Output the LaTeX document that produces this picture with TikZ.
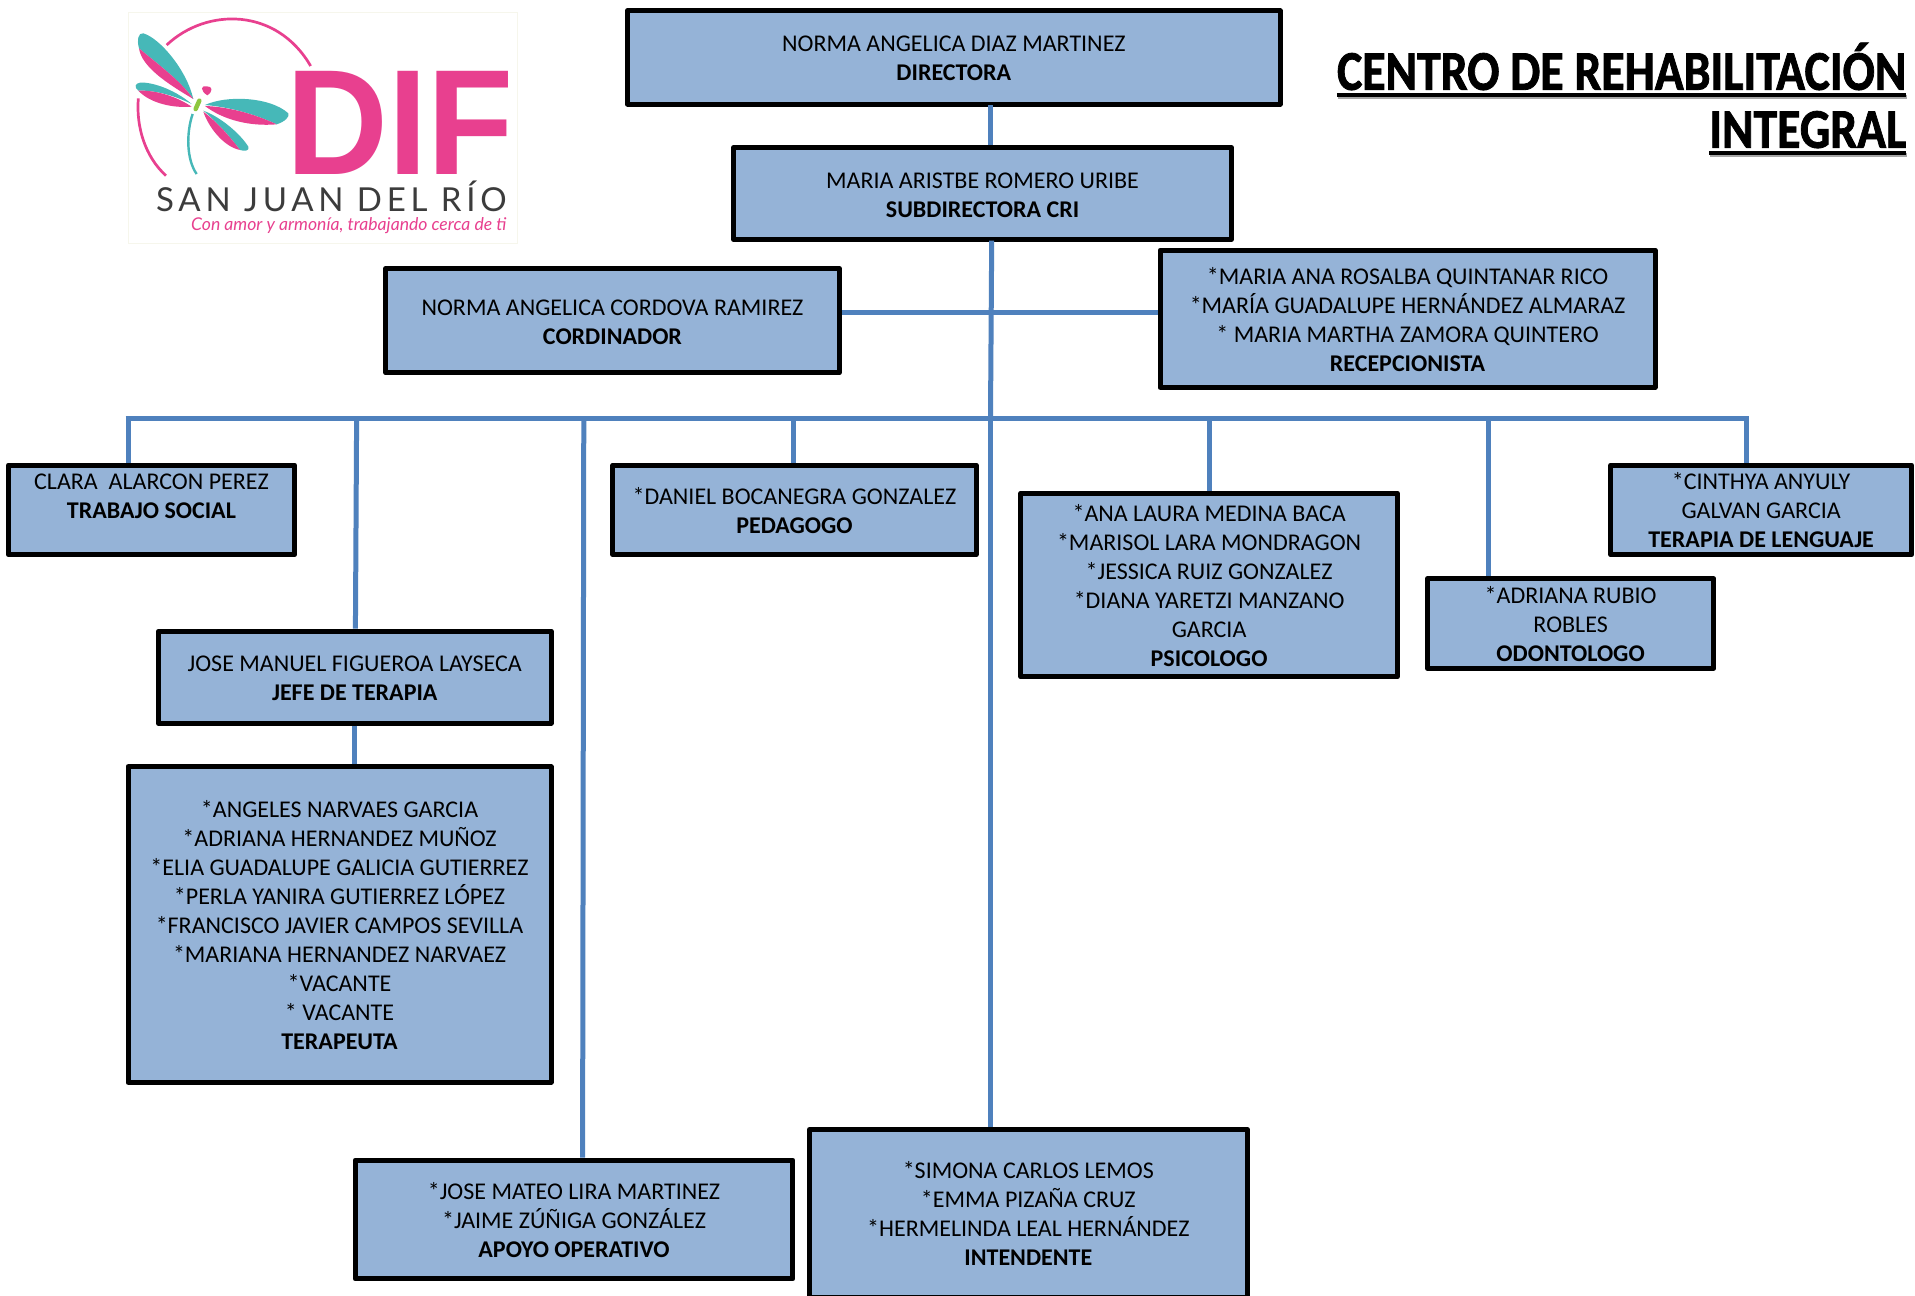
\documentclass[tikz,border=0pt]{standalone}
\usepackage{fontspec}
\usepackage{graphicx}
\setmainfont{Carlito}
\newfontfamily\titlefont[BoldFeatures={FakeBold=1.5}]{Carlito}
\newfontfamily\logofont[LetterSpace=14.5]{Lato}
\newfontfamily\tagfont{Lato}
\newfontfamily\diffont{Liberation Sans}
\definecolor{boxfill}{HTML}{95B3D7}
\definecolor{connblue}{HTML}{4F81BD}
\definecolor{logopink}{HTML}{E8408F}
\definecolor{logoteal}{HTML}{46B8B8}
\definecolor{logogreen}{HTML}{8DC63F}
\definecolor{logogrey}{HTML}{3C3C3C}
\definecolor{logoedge}{HTML}{F6F6EC}
\tikzset{
  orgbox/.style={draw=black,fill=boxfill,line width=5pt,line join=round,inner sep=0pt,
    font=\fontsize{24}{29}\selectfont},
  conn/.style={draw=connblue,line width=5pt},
  titletext/.style={anchor=base east,inner sep=0pt,font=\titlefont\fontsize{56}{60}\selectfont\bfseries},
  uline/.style={draw=black,line width=4.2pt},
  ushadow/.style={draw=black!35,line width=4.2pt},
  logotext/.style={anchor=base west,inner sep=0pt},
}
\newcommand{\orgnode}[6]{%
  \pgfmathsetmacro{\bw}{1.2213*(#4-#2)-2}\pgfmathsetmacro{\bh}{1.2213*(#5-#3)-2}%
  \pgfmathsetmacro{\cx}{(#2+#4)/2}\pgfmathsetmacro{\cy}{(#3+#5)/2}%
  \node[orgbox,minimum width=\bw pt,minimum height=\bh pt] (#1) at (\cx,\cy)
    {\raisebox{-3.2pt}[\height][\depth]{\begin{tabular}{@{}c@{}}#6\end{tabular}}};}
\begin{document}
\begin{tikzpicture}[x=1.2213pt,y=-1.2213pt]
\useasboundingbox (0,0) rectangle (1568,1061);
\clip (0,0) rectangle (1568,1061);
\fill[white] (0,0) rectangle (1568,1061);
% logo
\begin{scope}[shift={(90.07,0)},x=0.3333pt,y=-0.3333pt]
  \draw[draw=logoedge,fill=white,line width=1pt] (55,37) rectangle (1222,732);
  \draw[logopink,line width=2.7pt] (170,135) .. controls (290,22) and (500,22) .. (602,198);
  \draw[logopink,line width=2.7pt] (85,295) .. controls (78,380) and (105,470) .. (168,527);
  % wings
  \fill[logoteal] (250,297) .. controls (230,210) and (150,115) .. (100,100) .. controls (85,97) and (80,120) .. (87,145) .. controls (140,190) and (210,240) .. cycle;
  \fill[logopink] (87,145) .. controls (95,200) and (170,250) .. (250,297) .. controls (210,240) and (140,190) .. cycle;
  \fill[logoteal] (245,312) .. controls (190,265) and (120,245) .. (90,248) .. controls (75,250) and (72,262) .. (85,272) .. controls (140,270) and (200,290) .. cycle;
  \fill[logopink] (85,272) .. controls (120,310) and (190,325) .. (245,320) .. controls (200,290) and (140,270) .. cycle;
  \fill[logoteal] (285,315) .. controls (350,285) and (480,290) .. (535,340) .. controls (540,350) and (525,365) .. (500,373) .. controls (430,340) and (350,320) .. cycle;
  \fill[logopink] (285,318) .. controls (350,320) and (430,340) .. (500,373) .. controls (420,380) and (340,360) .. cycle;
  \fill[logoteal] (280,332) .. controls (330,350) and (390,400) .. (415,440) .. controls (420,452) and (405,455) .. (390,450) .. controls (360,410) and (320,365) .. cycle;
  \fill[logopink] (280,335) .. controls (320,365) and (360,410) .. (390,450) .. controls (340,440) and (295,380) .. cycle;
  \draw[logogreen,line width=4.5pt,line cap=round] (268,302) -- (257,327);
  \draw[logoteal,line width=2.4pt] (248,342) .. controls (228,400) and (230,480) .. (260,522);
  \fill[logopink] (292,286) .. controls (270,272) and (272,255) .. (290,259) .. controls (308,258) and (310,274) .. cycle;
  \node[logotext,text=logopink,font=\diffont\bfseries\fontsize{150}{150}\selectfont] (dif) at (530,523) {\scalebox{0.94}[1]{DIF}};
  \node[logotext,text=logogrey,font=\logofont\fontsize{33}{33}\selectfont] (sjr) at (138,634) {SAN JUAN DEL RÍO};
  \node[logotext,text=logopink,font=\tagfont\itshape\fontsize{17.6}{20}\selectfont] (lema) at (243,691) {Con amor y armonía, trabajando cerca de ti};
\end{scope}
% boxes
\orgnode{dir}{513}{8}{1049}{86}{NORMA ANGELICA DIAZ MARTINEZ\\\textbf{DIRECTORA}}
\orgnode{sub}{600}{120}{1009}{197}{MARIA ARISTBE ROMERO URIBE\\\textbf{SUBDIRECTORA CRI}}
\orgnode{cord}{315}{219}{688}{306}{NORMA ANGELICA CORDOVA RAMIREZ\\\textbf{CORDINADOR}}
\orgnode{recep}{949}{204}{1356}{318}{*MARIA ANA ROSALBA QUINTANAR RICO\\{*}MARÍA GUADALUPE HERNÁNDEZ ALMARAZ\\{*} MARIA MARTHA ZAMORA QUINTERO\\\textbf{RECEPCIONISTA}}
\orgnode{trab}{6}{380}{242}{455}{CLARA~ ALARCON PEREZ\\\textbf{TRABAJO SOCIAL}\\\strut}
\orgnode{ped}{501}{380}{800}{455}{*DANIEL BOCANEGRA GONZALEZ\\\textbf{PEDAGOGO}}
\orgnode{psi}{835}{403}{1145}{555}{*ANA LAURA MEDINA BACA\\{*}MARISOL LARA MONDRAGON\\{*}JESSICA RUIZ GONZALEZ\\{*}DIANA YARETZI MANZANO\\GARCIA\\\textbf{PSICOLOGO}}
\orgnode{odo}{1168}{473}{1404}{548}{*ADRIANA RUBIO\\ROBLES\\\textbf{ODONTOLOGO}}
\orgnode{leng}{1318}{380}{1566}{455}{*CINTHYA ANYULY\\GALVAN GARCIA\\\textbf{TERAPIA DE LENGUAJE}}
\orgnode{jefe}{129}{516}{452}{593}{JOSE MANUEL FIGUEROA LAYSECA\\\textbf{JEFE DE TERAPIA}}
\orgnode{ter}{104}{627}{452}{887}{*ANGELES NARVAES GARCIA\\{*}ADRIANA HERNANDEZ MUÑOZ\\{*}ELIA GUADALUPE GALICIA GUTIERREZ\\{*}PERLA YANIRA GUTIERREZ LÓPEZ\\{*}FRANCISCO JAVIER CAMPOS SEVILLA\\{*}MARIANA HERNANDEZ NARVAEZ\\{*}VACANTE\\{*} VACANTE\\\textbf{TERAPEUTA}}
\orgnode{apoyo}{290}{949}{650}{1048}{*JOSE MATEO LIRA MARTINEZ\\{*}JAIME ZÚÑIGA GONZÁLEZ\\\textbf{APOYO OPERATIVO}}
\orgnode{int}{662}{924}{1022}{1063}{*SIMONA CARLOS LEMOS\\{*}EMMA PIZAÑA CRUZ\\{*}HERMELINDA LEAL HERNÁNDEZ\\\textbf{INTENDENTE}}
% bus junctions
\coordinate (jdir) at (811,86);
\coordinate (jsub) at (812,197);
\coordinate (jmid) at (811.5,256);
\coordinate (jtop) at (811,343);
\coordinate (busl) at (105,343);
\coordinate (busr) at (1430,343);
\coordinate (jjefe) at (292,343);
\coordinate (japoyo) at (478,343);
\coordinate (jped) at (650,343);
\coordinate (jpsi) at (990,343);
\coordinate (jodo) at (1219,343);
% connectors
\draw[conn] (jdir) -- (jdir |- sub.north);
\draw[conn] (jsub) -- (jtop);
\draw[conn] (cord.east |- jmid) -- (recep.west |- jmid);
\draw[conn] ([xshift=-2.5pt]busl) -- ([xshift=2.5pt]busr);
\draw[conn] (busl) -- (busl |- trab.north);
\draw[conn] (jjefe) -- ([xshift=-1.2pt]jjefe |- jefe.north);
\draw[conn] (japoyo) -- ([xshift=-1.2pt]japoyo |- apoyo.north);
\draw[conn] (jped) -- (jped |- ped.north);
\draw[conn] (jtop) -- (jtop |- int.north);
\draw[conn] (jpsi) -- (jpsi |- psi.north);
\draw[conn] (jodo) -- (jodo |- odo.north);
\draw[conn] (busr) -- (busr |- leng.north);
\draw[conn] (jefe.south) -- (jefe.south |- ter.north);
% title
\node[titletext] (t1) at (1561,73.5) {\scalebox{0.853}[1]{CENTRO DE REHABILITACIÓN}};
\node[titletext] (t2) at (1561,121) {\scalebox{0.853}[1]{INTEGRAL}};
\draw[ushadow] ([xshift=1pt,yshift=-7pt]t1.base west) -- ([xshift=1pt,yshift=-7pt]t1.base east);
\draw[uline] ([yshift=-5.5pt]t1.base west) -- ([yshift=-5.5pt]t1.base east);
\draw[ushadow] ([xshift=1pt,yshift=-7pt]t2.base west) -- ([xshift=1pt,yshift=-7pt]t2.base east);
\draw[uline] ([yshift=-5.5pt]t2.base west) -- ([yshift=-5.5pt]t2.base east);
\end{tikzpicture}
\end{document}
